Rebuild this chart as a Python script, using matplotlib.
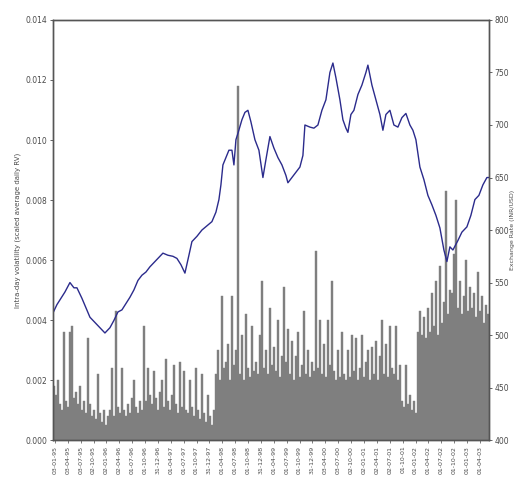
import numpy as np
import matplotlib
matplotlib.use("Agg")
import matplotlib.pyplot as plt

# Daily intra-day volatility, in units of 1e-3
vol_e3 = [
    1.8, 1.5, 2.0, 1.2,
    1.0, 3.6, 1.3, 1.1, 3.6, 3.8,
    1.4, 1.6, 1.2, 1.8, 1.0, 1.3,
    0.9, 3.4, 1.2, 0.8, 1.0, 0.7,
    2.2, 0.9, 0.6, 1.0, 0.5, 0.8,
    1.0, 2.4, 0.8, 4.3, 1.1, 0.9,
    2.4, 1.0, 0.8, 1.2, 0.9, 1.4,
    2.0, 1.1, 0.9, 1.3, 1.0, 3.8,
    1.3, 2.4, 1.5, 1.2, 2.3, 1.4,
    1.0, 1.6, 2.0, 1.1, 2.7, 1.3,
    1.0, 1.5, 2.5, 1.2, 0.9, 2.6,
    1.1, 2.3, 1.0, 0.9, 2.0, 1.1,
    0.8, 2.4, 1.0, 0.7, 2.2, 0.9,
    0.6, 1.5, 0.8, 0.5, 1.0,
    2.2, 3.0, 2.0, 4.8, 2.4, 2.6,
    3.2, 2.0, 4.8, 2.5, 3.0,
    11.8,
    2.2, 3.5, 2.0, 4.2, 2.4, 2.1,
    3.8, 2.3, 2.6, 2.2, 3.5, 5.3,
    2.4, 3.0, 2.2, 4.4, 2.5, 3.1,
    2.3, 4.0, 2.1, 2.8, 5.1, 2.6,
    3.7, 2.2, 3.3, 2.0, 2.8, 3.6,
    2.1, 2.5, 4.3, 2.2, 3.0, 2.1,
    2.6, 2.3, 6.3, 2.4, 4.0, 2.2,
    3.2, 2.1, 4.0, 2.5, 5.3, 2.3,
    2.0, 3.0, 2.1, 3.6, 2.2, 2.0,
    3.0, 2.1, 3.5, 2.3, 3.4, 2.0,
    2.4, 3.5, 2.1, 2.6, 3.0, 2.0,
    3.1, 2.2, 3.3, 2.0, 2.8, 4.0,
    2.2, 3.2, 2.1, 3.8, 2.4, 2.2,
    3.8, 2.0, 2.5, 1.3, 1.1, 2.5,
    1.2, 1.5, 1.0, 1.3, 0.9,
    3.6, 4.3, 3.5, 4.1, 3.4, 4.4,
    3.6, 4.9, 3.8, 5.3, 3.5, 5.8,
    3.9, 4.6, 8.3, 4.2, 5.0, 4.9,
    6.2, 8.0, 4.4, 5.3, 4.2, 4.8,
    6.0, 4.3, 5.1, 4.4, 4.9, 4.1,
    5.6, 4.3, 4.8, 3.9, 4.5, 4.2,
]

# Exchange rate observations: day number and level
rate_day = [
    0, 2, 4, 6, 8.5, 10.5, 12, 14.5, 16.5, 18.5, 21, 23.5, 26, 28.5, 30.5,
    32.5, 34.5, 36.5, 38.5, 40.5, 42.5, 44.5, 46.5, 48.5, 51, 53.5, 55,
    57.5, 60, 62, 64, 66, 68, 69.5, 72, 74.5, 77, 79.5, 81.5, 83, 84, 85,
    86.5, 88, 89.5, 90.5, 91.5, 92.5, 94.5, 96, 97.5, 99, 101, 103, 105,
    106.5, 108.5, 110.5, 112.5, 114.5, 116.5, 117.5, 119.5, 121.5, 123.5,
    125, 126, 128.5, 130.5, 132.5, 134.5, 136.5, 138.5, 140, 141.5, 143.5,
    145, 146.5, 147.5, 149, 150.5, 152.5, 154.5, 156.5, 157.5, 159.5,
    161.5, 163.5, 165, 166.5, 168.5, 170.5, 172.5, 174.5, 176.5, 178.5,
    180, 181.5, 183.5, 185.5, 187.5, 189.5, 191.5, 193.5, 195.5, 197,
    198.5, 200, 202.5, 204.5, 207, 209, 211, 213, 215, 217, 218,
]
rate = [
    521, 529, 535, 541, 550, 545, 545, 535, 526, 517, 512, 507, 502, 507,
    514, 522, 524, 530, 536, 543, 552, 557, 560, 565, 570, 575, 578, 576,
    575, 573, 567, 559, 576, 589, 594, 600, 604, 608, 617, 629, 643, 662,
    669, 676, 676, 662, 686, 692, 705, 712, 714, 703, 686, 676, 650, 667,
    689, 678, 669, 662, 652, 645, 650, 655, 660, 671, 700, 698, 697, 700,
    714, 724, 750, 759, 745, 724, 705, 697, 693, 710, 714, 729, 738, 750,
    757, 738, 724, 710, 695, 710, 714, 700, 698, 707, 711, 700, 695, 686,
    660, 648, 633, 624, 614, 602, 581, 570, 584, 581, 590, 598, 603, 614,
    629, 633, 643, 650, 650,
]

date_labels = [
    "03-01-95", "03-04-95", "03-07-95", "02-10-95", "02-01-96", "02-04-96",
    "01-07-96", "01-10-96", "31-12-96", "01-04-97", "01-07-97", "01-10-97",
    "31-12-97", "01-04-98", "01-07-98", "01-10-98", "31-12-98", "01-04-99",
    "01-07-99", "01-10-99", "31-12-99", "03-04-00", "03-07-00", "02-10-00",
    "02-01-01", "02-04-01", "02-07-01", "01-10-01", "01-01-02", "01-04-02",
    "01-07-02", "01-10-02", "01-01-03", "01-04-03",
]

vol = np.array(vol_e3) * 1e-3
days = np.arange(len(vol))

txt = "#4a4a4a"
fig = plt.figure(figsize=(5.19, 4.99), dpi=100)
ax = fig.add_axes([0.102, 0.118, 0.840, 0.842])

ax.bar(days, vol, width=1.0, color="#7f7f7f", edgecolor="#7f7f7f",
       linewidth=0.3, align="edge")
ax.set_xlim(0, len(vol))
ax.set_ylim(0, 0.014)
ax.set_yticks(np.arange(0, 0.0141, 0.002))
ax.set_yticklabels([f"{v:.3f}" for v in np.arange(0, 0.0141, 0.002)])
ax.set_ylabel("Intra-day volatility (scaled average daily RV)",
              fontsize=5, color=txt, labelpad=3)

tick_pos = np.linspace(1.0, 213.5, len(date_labels))
ax.set_xticks(tick_pos)
ax.set_xticklabels(date_labels, rotation=90, fontsize=4.5, color=txt)

ax2 = ax.twinx()
ax2.plot(rate_day, rate, color="#2b2b8c", linewidth=1.0)
ax2.set_ylim(400, 800)
ax2.set_yticks(np.arange(400, 801, 50))
ax2.set_ylabel("Exchange Rate (INR/USD)", fontsize=4.5, color=txt,
               labelpad=1)

for a in (ax, ax2):
    a.tick_params(axis="y", labelsize=5.5, colors=txt, length=2.5,
                  width=0.6, pad=1.5)
    for s in a.spines.values():
        s.set_color("#555555")
        s.set_linewidth(1.0)
ax.tick_params(axis="x", length=2, width=0.5, colors=txt, pad=2)

fig.savefig("out.png", dpi=100)
